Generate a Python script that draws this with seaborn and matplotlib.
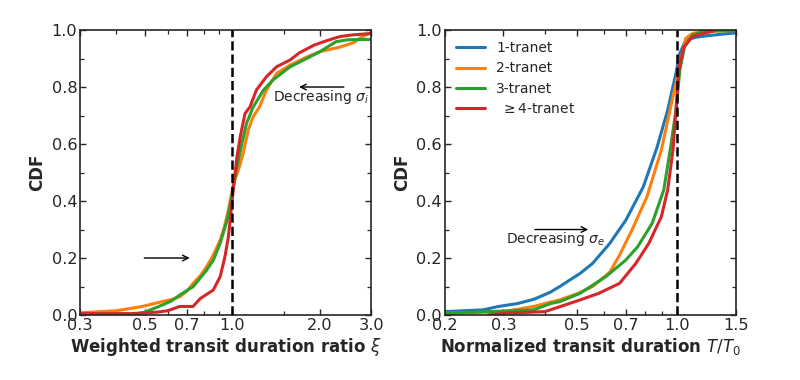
import matplotlib
matplotlib.use("Agg")
import matplotlib.pyplot as plt
import matplotlib.ticker as mticker
import seaborn as sns
import pandas as pd

# ---------------- data ----------------
colors = {"1-tranet": "#1f77b4", "2-tranet": "#ff7f0e", "3-tranet": "#2ca02c", "4-tranet": "#d62728"}

# Left panel: weighted transit duration ratio xi
xi_2 = [0.30, 0.40, 0.49, 0.574, 0.62, 0.66, 0.70, 0.735, 0.78, 0.817, 0.86, 0.909, 0.94, 0.97, 1.01, 1.05, 1.09, 1.135, 1.18, 1.24, 1.31, 1.42, 1.58, 1.80, 2.00, 2.34, 2.60, 2.80, 3.00]
cdf_xi_2 = [0.008, 0.015, 0.030, 0.047, 0.055, 0.064, 0.085, 0.112, 0.140, 0.170, 0.210, 0.263, 0.310, 0.368, 0.462, 0.509, 0.567, 0.650, 0.696, 0.730, 0.789, 0.848, 0.877, 0.905, 0.924, 0.940, 0.955, 0.977, 0.990]

xi_3 = [0.45, 0.50, 0.56, 0.62, 0.66, 0.735, 0.817, 0.861, 0.909, 0.96, 1.00, 1.038, 1.079, 1.12, 1.18, 1.28, 1.38, 1.58, 1.80, 2.00, 2.27, 2.50, 3.00]
cdf_xi_3 = [0.000, 0.010, 0.030, 0.050, 0.070, 0.100, 0.158, 0.193, 0.252, 0.333, 0.427, 0.520, 0.602, 0.673, 0.730, 0.789, 0.825, 0.871, 0.900, 0.924, 0.959, 0.966, 0.967]

xi_4 = [0.30, 0.45, 0.55, 0.60, 0.66, 0.733, 0.777, 0.861, 0.909, 0.944, 0.97, 0.986, 1.01, 1.038, 1.065, 1.106, 1.15, 1.21, 1.31, 1.42, 1.58, 1.70, 1.91, 2.10, 2.34, 2.60, 3.00]
cdf_xi_4 = [0.005, 0.005, 0.010, 0.015, 0.030, 0.030, 0.058, 0.088, 0.135, 0.205, 0.275, 0.345, 0.450, 0.555, 0.625, 0.707, 0.730, 0.789, 0.836, 0.871, 0.895, 0.920, 0.947, 0.962, 0.977, 0.983, 0.988]

# Right panel: normalized transit duration T/T0
T_1 = [0.20, 0.26, 0.29, 0.33, 0.37, 0.415, 0.443, 0.51, 0.556, 0.626, 0.70, 0.79, 0.87, 0.935, 0.99, 1.017, 1.06, 1.14, 1.23, 1.35, 1.50]
cdf_T_1 = [0.012, 0.018, 0.030, 0.040, 0.055, 0.080, 0.100, 0.146, 0.181, 0.251, 0.333, 0.450, 0.591, 0.719, 0.848, 0.918, 0.965, 0.975, 0.980, 0.985, 0.990]

T_2 = [0.20, 0.30, 0.37, 0.415, 0.443, 0.50, 0.556, 0.626, 0.67, 0.73, 0.81, 0.895, 0.955, 1.00, 1.035, 1.06, 1.11, 1.20, 1.50]
cdf_T_2 = [0.006, 0.012, 0.030, 0.045, 0.053, 0.075, 0.100, 0.150, 0.210, 0.298, 0.415, 0.579, 0.731, 0.836, 0.918, 0.971, 0.988, 0.996, 0.998]

T_3 = [0.20, 0.37, 0.415, 0.443, 0.51, 0.61, 0.70, 0.76, 0.84, 0.91, 0.955, 0.99, 1.017, 1.05, 1.11, 1.20, 1.50]
cdf_T_3 = [0.006, 0.018, 0.040, 0.047, 0.076, 0.135, 0.193, 0.240, 0.322, 0.439, 0.591, 0.719, 0.860, 0.940, 0.982, 0.996, 0.998]

T_4 = [0.27, 0.30, 0.40, 0.443, 0.51, 0.58, 0.67, 0.75, 0.82, 0.895, 0.935, 0.97, 0.99, 1.01, 1.045, 1.11, 1.17, 1.28]
cdf_T_4 = [0.000, 0.006, 0.012, 0.029, 0.053, 0.076, 0.111, 0.181, 0.251, 0.345, 0.439, 0.579, 0.719, 0.860, 0.940, 0.977, 0.985, 0.996]

legend_labels = ["1-tranet", "2-tranet", "3-tranet", r" $\geq$4-tranet"]

left_xticks = [0.3, 0.5, 0.7, 1.0, 2.0, 3.0]
left_minor = [0.4, 0.6, 0.8, 0.9, 1.5]
right_xticks = [0.2, 0.3, 0.5, 0.7, 1.0, 1.5]
right_minor = [0.4, 0.6, 0.8, 0.9]
yticks = [0.0, 0.2, 0.4, 0.6, 0.8, 1.0]

# ---------------- style ----------------
sns.set_style("ticks")
plt.rcParams["font.family"] = ["DejaVu Sans"]
plt.rcParams["mathtext.fontset"] = "dejavusans"

fig = plt.figure(figsize=(8, 3.8), dpi=100)
axL = fig.add_axes([0.100, 0.171, 0.364, 0.750])
axR = fig.add_axes([0.556, 0.171, 0.364, 0.750])

LW = 2.2


def draw(ax, x, y, color, label=None):
    df = pd.DataFrame({"x": x, "y": y})
    sns.lineplot(data=df, x="x", y="y", ax=ax, color=color, lw=LW,
                 estimator=None, sort=False, label=label, legend=False)


draw(axL, xi_2, cdf_xi_2, colors["2-tranet"])
draw(axL, xi_3, cdf_xi_3, colors["3-tranet"])
draw(axL, xi_4, cdf_xi_4, colors["4-tranet"])

draw(axR, T_1, cdf_T_1, colors["1-tranet"], legend_labels[0])
draw(axR, T_2, cdf_T_2, colors["2-tranet"], legend_labels[1])
draw(axR, T_3, cdf_T_3, colors["3-tranet"], legend_labels[2])
draw(axR, T_4, cdf_T_4, colors["4-tranet"], legend_labels[3])


def style(ax, xlim, majors, minors, xlabel):
    ax.set_xscale("log")
    ax.set_xlim(*xlim)
    ax.set_ylim(0, 1)
    ax.axvline(1.0, color="k", ls="--", lw=1.8, zorder=5)
    ax.xaxis.set_major_locator(mticker.FixedLocator(majors))
    ax.xaxis.set_major_formatter(mticker.FixedFormatter([f"{v:.1f}" for v in majors]))
    ax.xaxis.set_minor_locator(mticker.FixedLocator(minors))
    ax.xaxis.set_minor_formatter(mticker.NullFormatter())
    ax.set_yticks(yticks)
    ax.set_yticklabels([f"{v:.1f}" for v in yticks])
    ax.yaxis.set_minor_locator(mticker.MultipleLocator(0.1))
    ax.tick_params(which="both", direction="in", top=True, right=True,
                   labelsize=11.6, pad=2)
    ax.tick_params(which="major", length=4.5, width=1)
    ax.tick_params(which="minor", length=3, width=0.9)
    for s in ax.spines.values():
        s.set_linewidth(1.2)
        s.set_visible(True)
    ax.set_xlabel(xlabel, fontsize=12, fontweight="bold", labelpad=2)
    ax.set_ylabel("CDF", fontsize=12, fontweight="bold", labelpad=4)


style(axL, (0.3, 3.0), left_xticks, left_minor, r"Weighted transit duration ratio $\xi$")
style(axR, (0.2, 1.5), right_xticks, right_minor, r"Normalized transit duration $T/T_0$")

# annotations
arrow = dict(arrowstyle="->", color="k", lw=1.0)
axL.annotate("", xy=(0.73, 0.20), xytext=(0.488, 0.20), arrowprops=arrow)
axL.annotate("", xy=(1.66, 0.80), xytext=(2.47, 0.80), arrowprops=arrow)
axL.text(1.38, 0.765, r"Decreasing $\sigma_i$", fontsize=10, va="center", ha="left")

axR.annotate("", xy=(0.55, 0.30), xytext=(0.366, 0.30), arrowprops=arrow)
axR.text(0.306, 0.265, r"Decreasing $\sigma_e$", fontsize=10, va="center", ha="left")

axR.legend(loc="upper left", frameon=False, fontsize=10, handlelength=2.1,
           handletextpad=0.8, labelspacing=0.45, borderaxespad=0.4)

fig.savefig("out.png", dpi=100)
